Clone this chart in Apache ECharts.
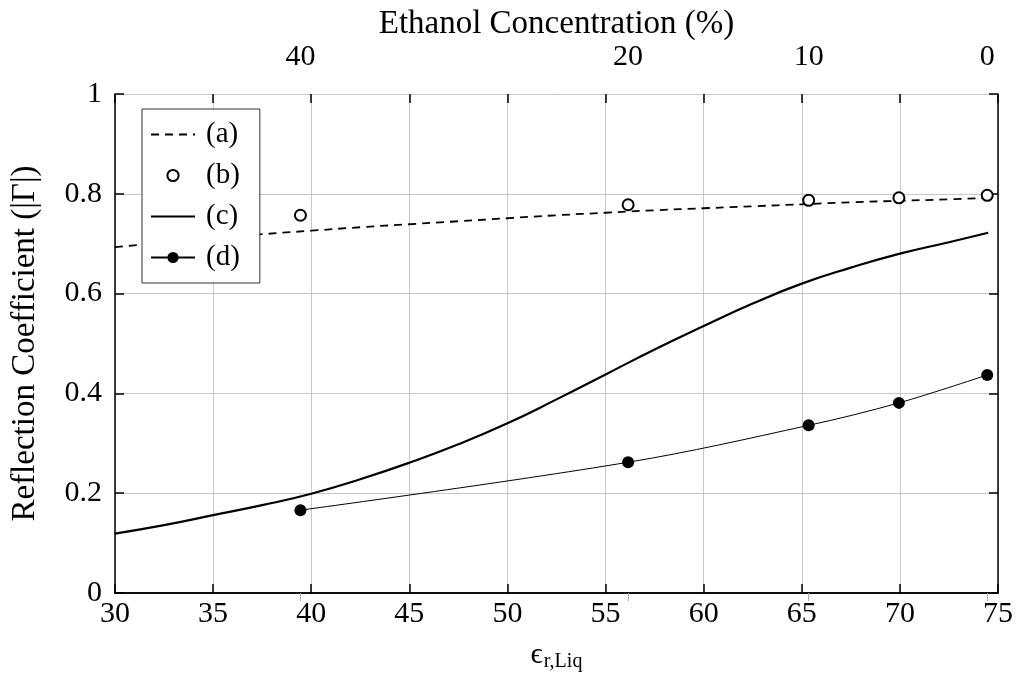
<!DOCTYPE html>
<html>
<head>
<meta charset="utf-8">
<script src="https://cdn.jsdelivr.net/npm/echarts@6/dist/echarts.min.js"></script>
<style>
  html, body { margin: 0; padding: 0; background: #fff; }
  #chart { width: 1018px; height: 673px; }
</style>
</head>
<body>
<div id="chart"></div>
<script>
// Relative permittivity of the liquid (bottom axis) for the model curves
const curveEps = [30, 32.5, 35, 37.5, 40, 42.5, 45, 47.5, 50, 52.5, 55, 57.5, 60, 62.5, 65, 67.5, 70, 72.5, 74.5];
// (a) reflection coefficient, dashed model
const curveA = [0.693, 0.702, 0.711, 0.719, 0.726, 0.733, 0.739, 0.745, 0.751, 0.757, 0.762, 0.767, 0.771, 0.775, 0.779, 0.783, 0.786, 0.789, 0.792];
// (c) reflection coefficient, solid model
const curveC = [0.119, 0.136, 0.156, 0.176, 0.199, 0.228, 0.261, 0.298, 0.340, 0.388, 0.438, 0.488, 0.535, 0.580, 0.620, 0.652, 0.680, 0.703, 0.722];

// Measured mixtures: permittivity of each ethanol/water sample
const sampleEps = [39.45, 56.15, 65.35, 69.95, 74.45];
const measuredB = [0.757, 0.778, 0.787, 0.792, 0.797];
const measuredD = [0.166, 0.262, 0.336, 0.381, 0.437];

// Top axis: ethanol concentration labels placed at the matching permittivity
const concEps = [39.45, 56.15, 65.35, 74.45];
const concLabels = ['40', '20', '10', '0'];

const FONT = 'Liberation Serif';
const pairs = (xs, ys) => xs.map((x, i) => [x, ys[i]]);

const chart = echarts.init(document.getElementById('chart'), null, { renderer: 'canvas' });

const axisBlack = { lineStyle: { color: '#000', width: 1.5 } };
const tickBlack = { inside: true, length: 9, lineStyle: { color: '#000', width: 1.5 } };

chart.setOption({
  animation: false,
  backgroundColor: '#fff',
  textStyle: { fontFamily: FONT, color: '#000' },
  grid: { left: 115, right: 20, top: 94, bottom: 80, containLabel: false, outerBoundsMode: 'none' },
  legend: {
    orient: 'vertical',
    left: 142,
    top: 109,
    padding: [11, 20, 11, 8],
    itemWidth: 44,
    itemHeight: 14,
    itemGap: 12,
    borderColor: '#333',
    borderWidth: 1,
    backgroundColor: '#fff',
    textStyle: { fontFamily: FONT, fontSize: 29, color: '#000', lineHeight: 28, padding: [0, 0, 0, 6] },
    data: [
      // curves without markers: hide the marker in their legend sample
      { name: '(a)', itemStyle: { opacity: 0 } },
      { name: '(b)' },
      { name: '(c)', itemStyle: { opacity: 0 } },
      { name: '(d)' }
    ]
  },
  xAxis: [
    {
      type: 'value', position: 'bottom', min: 30, max: 75, interval: 5,
      axisLine: axisBlack,
      axisTick: tickBlack,
      axisLabel: { fontFamily: FONT, fontSize: 30, color: '#000', margin: 6 },
      splitLine: { show: true, lineStyle: { color: '#c8c8c8', width: 1 } },
      name: '{e|ϵ}{s|r,Liq}',
      nameLocation: 'middle',
      nameGap: 45,
      nameMoveOverlap: false,
      nameTextStyle: {
        rich: {
          e: { fontFamily: FONT, fontSize: 30, color: '#000', lineHeight: 34, verticalAlign: 'middle' },
          s: { fontFamily: FONT, fontSize: 20, color: '#000', lineHeight: 34, verticalAlign: 'bottom', padding: [0, 0, 0, 1] }
        }
      }
    },
    {
      type: 'value', position: 'top', min: 30, max: 75,
      axisLine: axisBlack,
      axisTick: { inside: true, length: 8, customValues: concEps, lineStyle: { color: '#aaa', width: 1 } },
      axisLabel: {
        fontFamily: FONT, fontSize: 30, color: '#000', margin: 22,
        customValues: concEps,
        formatter: function (v) {
          let best = 0;
          concEps.forEach((e, i) => { if (Math.abs(e - v) < Math.abs(concEps[best] - v)) best = i; });
          return concLabels[best];
        }
      },
      splitLine: { show: false },
      name: 'Ethanol Concentration (%)',
      nameLocation: 'middle',
      nameGap: 53,
      nameMoveOverlap: false,
      nameTextStyle: { fontFamily: FONT, fontSize: 33, color: '#000' }
    },
    {
      type: 'value', position: 'top', min: 30, max: 75, interval: 5,
      axisLine: { show: false },
      axisTick: tickBlack,
      axisLabel: { show: false },
      splitLine: { show: false }
    }
  ],
  yAxis: [
    {
      type: 'value', position: 'left', min: 0, max: 1, interval: 0.2,
      axisLine: axisBlack,
      axisTick: tickBlack,
      axisLabel: { fontFamily: FONT, fontSize: 30, color: '#000', margin: 13 },
      splitLine: { show: true, lineStyle: { color: '#c8c8c8', width: 1 } },
      name: 'Reflection Coefficient (|Γ|)',
      nameLocation: 'middle',
      nameGap: 73,
      nameMoveOverlap: false,
      nameTextStyle: { fontFamily: FONT, fontSize: 33, color: '#000' }
    },
    {
      type: 'value', position: 'right', min: 0, max: 1, interval: 0.2,
      axisLine: axisBlack,
      axisTick: tickBlack,
      axisLabel: { show: false },
      splitLine: { show: false }
    }
  ],
  series: [
    {
      name: '(a)', type: 'line', xAxisIndex: 0, yAxisIndex: 0,
      data: pairs(curveEps, curveA), smooth: true, showSymbol: false, symbol: 'none',
      lineStyle: { color: '#000', width: 1.8, type: [8, 6] },
      itemStyle: { color: '#000' }, z: 3
    },
    {
      name: '(b)', type: 'line', xAxisIndex: 0, yAxisIndex: 0,
      data: pairs(sampleEps, measuredB),
      symbol: 'emptyCircle', symbolSize: 11,
      lineStyle: { width: 0, opacity: 0 },
      itemStyle: { color: '#000', borderColor: '#000', borderWidth: 2 }, z: 4
    },
    {
      name: '(c)', type: 'line', xAxisIndex: 0, yAxisIndex: 0,
      data: pairs(curveEps, curveC), smooth: true, showSymbol: false, symbol: 'none',
      lineStyle: { color: '#000', width: 2.2 },
      itemStyle: { color: '#000' }, z: 3
    },
    {
      name: '(d)', type: 'line', xAxisIndex: 0, yAxisIndex: 0,
      data: pairs(sampleEps, measuredD), smooth: 0.35,
      symbol: 'circle', symbolSize: 12,
      lineStyle: { color: '#000', width: 1 },
      itemStyle: { color: '#000' }, z: 4
    }
  ]
});
</script>
</body>
</html>
